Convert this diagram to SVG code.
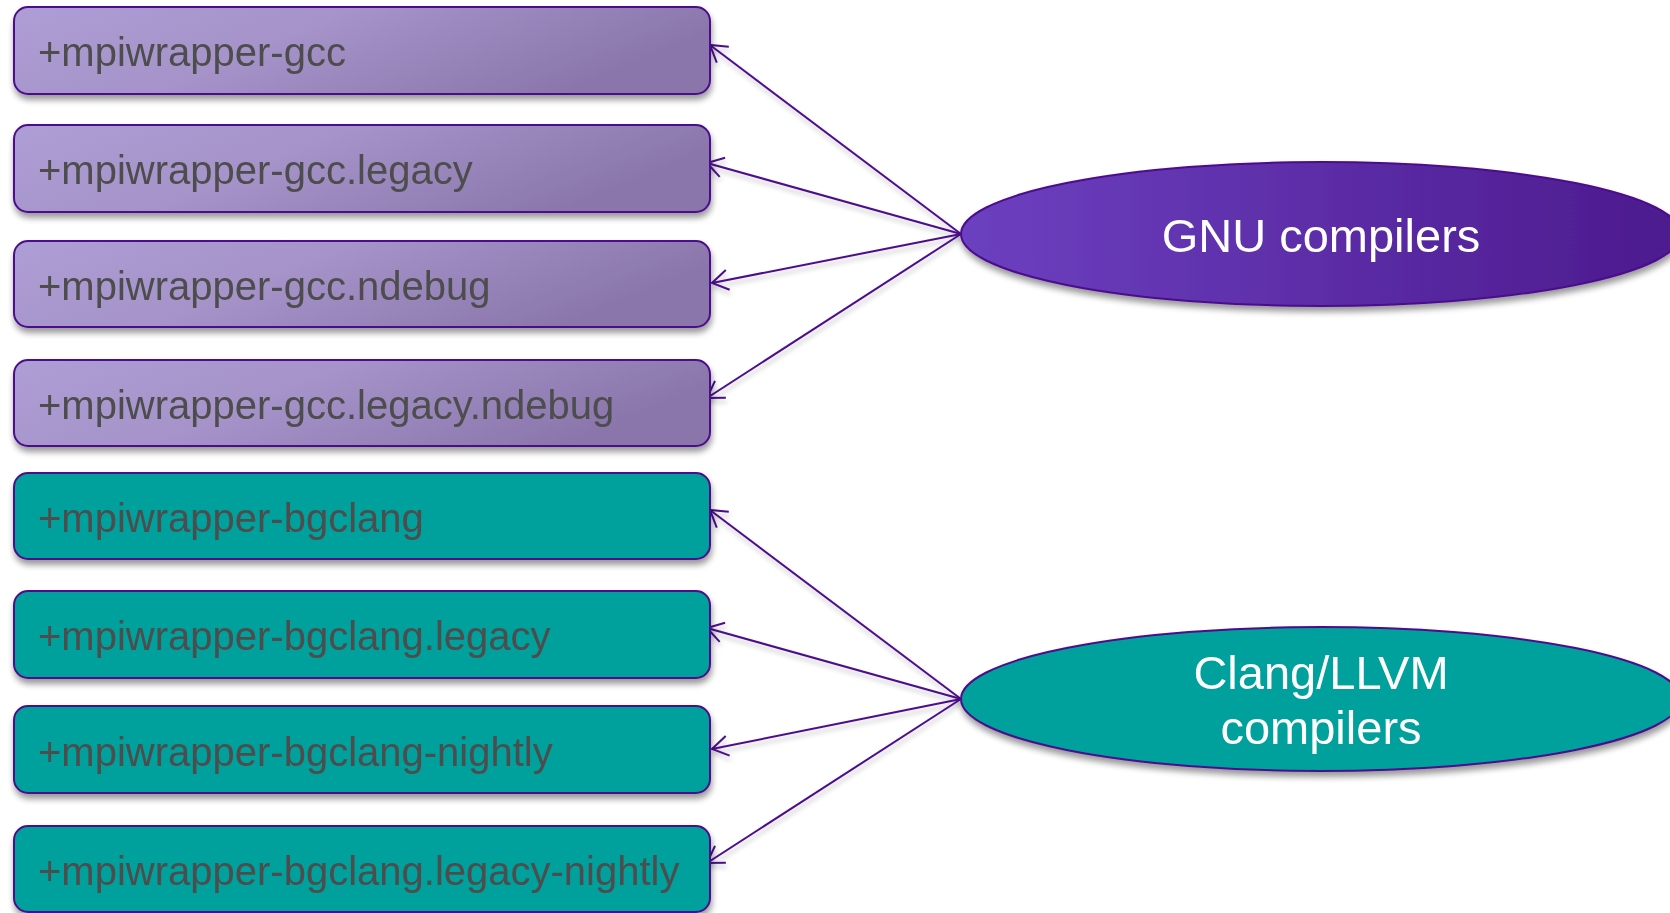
<svg xmlns="http://www.w3.org/2000/svg" width="1670" height="913" viewBox="0 0 1670 913">
  <style>
    .box { stroke: #4B0C8C; stroke-width: 2; }
    .gcc { fill: url(#gPurple); }
    .clang { fill: #00A09C; }
    .lbl { font-family: "Liberation Sans", Arial, sans-serif; font-size: 40px; fill: #4D4D4D; }
    .ell { stroke: #4B0C8C; stroke-width: 2; }
    .elbl { font-family: "Liberation Sans", Arial, sans-serif; font-size: 47px; fill: #FFFFFF; text-anchor: middle; }
    .conn { stroke: #4B0C8C; stroke-width: 2; fill: none; marker-end: url(#arrow); }
  </style>
  <defs>
    <linearGradient id="gPurple" x1="0" y1="0" x2="1" y2="0.3">
      <stop offset="0" stop-color="#AD9ED5"/>
      <stop offset="0.45" stop-color="#A593C9"/>
      <stop offset="1" stop-color="#8A76AB"/>
    </linearGradient>
    <linearGradient id="gGnu" x1="0" y1="0" x2="1" y2="0">
      <stop offset="0" stop-color="#6C40C0"/>
      <stop offset="1" stop-color="#4C1A8E"/>
    </linearGradient>
    <filter id="shadow" x="-5%" y="-20%" width="110%" height="150%">
      <feGaussianBlur in="SourceAlpha" stdDeviation="3"/>
      <feOffset dx="1" dy="5" result="o"/>
      <feComponentTransfer><feFuncA type="linear" slope="0.4"/></feComponentTransfer>
      <feMerge><feMergeNode/><feMergeNode in="SourceGraphic"/></feMerge>
    </filter>
    <filter id="lshadow" x="-10%" y="-10%" width="120%" height="120%">
      <feGaussianBlur in="SourceAlpha" stdDeviation="2.5"/>
      <feOffset dx="1" dy="4" result="o"/>
      <feComponentTransfer><feFuncA type="linear" slope="0.25"/></feComponentTransfer>
      <feMerge><feMergeNode/><feMergeNode in="SourceGraphic"/></feMerge>
    </filter>
    <marker id="arrow" markerUnits="userSpaceOnUse" viewBox="-20 -12 22 24" refX="0" refY="0" markerWidth="22" markerHeight="24" orient="auto">
      <path d="M-16,-10 L0,0 L-16,10" fill="none" stroke="#4B0C8C" stroke-width="2"/>
    </marker>
  </defs>

  <g id="connectors" filter="url(#lshadow)">
    <line class="conn" x1="961" y1="234" x2="710" y2="45"/>
    <line class="conn" x1="961" y1="234" x2="707" y2="163"/>
    <line class="conn" x1="961" y1="234" x2="712" y2="283"/>
    <line class="conn" x1="961" y1="234" x2="707" y2="398"/>
    <line class="conn" x1="961" y1="699" x2="710" y2="510"/>
    <line class="conn" x1="961" y1="699" x2="707" y2="628"/>
    <line class="conn" x1="961" y1="699" x2="712" y2="749"/>
    <line class="conn" x1="961" y1="699" x2="707" y2="863"/>
  </g>

  <g id="n1" filter="url(#shadow)">
    <rect class="box gcc" x="14" y="7" width="696" height="87" rx="14"/>
    <text class="lbl" x="38" y="66">+mpiwrapper-gcc</text>
  </g>
  <g id="n2" filter="url(#shadow)">
    <rect class="box gcc" x="14" y="125" width="696" height="87" rx="14"/>
    <text class="lbl" x="38" y="184">+mpiwrapper-gcc.legacy</text>
  </g>
  <g id="n3" filter="url(#shadow)">
    <rect class="box gcc" x="14" y="241" width="696" height="86" rx="14"/>
    <text class="lbl" x="38" y="300">+mpiwrapper-gcc.ndebug</text>
  </g>
  <g id="n4" filter="url(#shadow)">
    <rect class="box gcc" x="14" y="360" width="696" height="86" rx="14"/>
    <text class="lbl" x="38" y="419">+mpiwrapper-gcc.legacy.ndebug</text>
  </g>
  <g id="n5" filter="url(#shadow)">
    <rect class="box clang" x="14" y="473" width="696" height="86" rx="14"/>
    <text class="lbl" x="38" y="532">+mpiwrapper-bgclang</text>
  </g>
  <g id="n6" filter="url(#shadow)">
    <rect class="box clang" x="14" y="591" width="696" height="87" rx="14"/>
    <text class="lbl" x="38" y="650">+mpiwrapper-bgclang.legacy</text>
  </g>
  <g id="n7" filter="url(#shadow)">
    <rect class="box clang" x="14" y="706" width="696" height="87" rx="14"/>
    <text class="lbl" x="38" y="766">+mpiwrapper-bgclang-nightly</text>
  </g>
  <g id="n8" filter="url(#shadow)">
    <rect class="box clang" x="14" y="826" width="696" height="86" rx="14"/>
    <text class="lbl" x="38" y="885">+mpiwrapper-bgclang.legacy-nightly</text>
  </g>

  <g id="gnu" filter="url(#shadow)">
    <ellipse class="ell" cx="1321" cy="234" rx="360" ry="72" fill="url(#gGnu)"/>
    <text class="elbl" x="1321" y="252">GNU compilers</text>
  </g>
  <g id="clangllvm" filter="url(#shadow)">
    <ellipse class="ell" cx="1321" cy="699" rx="360" ry="72" fill="#00A09C"/>
    <text class="elbl" x="1321" y="689">Clang/LLVM</text>
    <text class="elbl" x="1321" y="744">compilers</text>
  </g>
</svg>
